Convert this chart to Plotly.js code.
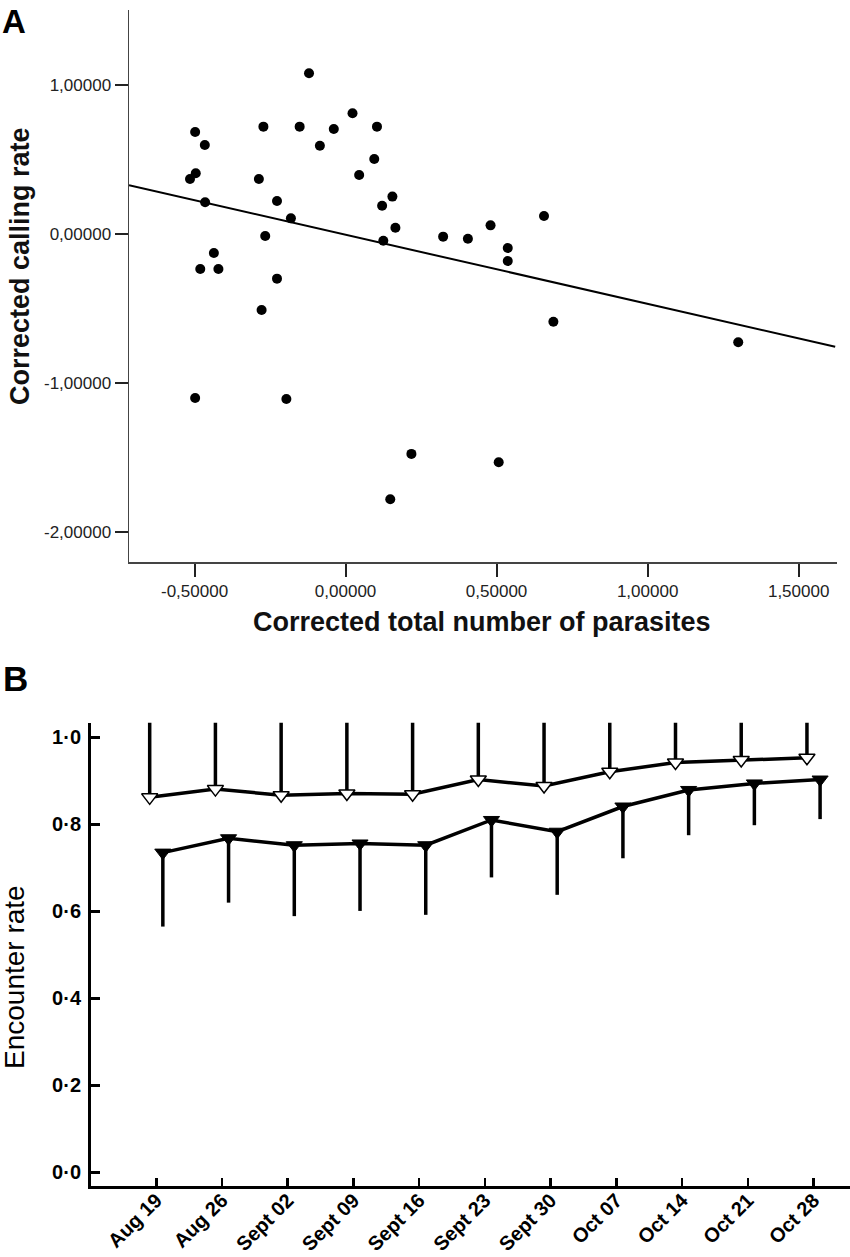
<!DOCTYPE html>
<html>
<head>
<meta charset="utf-8">
<script src="https://cdn.plot.ly/plotly-3.0.1.min.js"></script>
<style>
  html, body { margin: 0; padding: 0; background: #fff; }
  #chart { width: 850px; height: 1257px; }
</style>
</head>
<body>
<div id="chart"></div>
<script>
// ---------- Panel A data ----------
const parasitesX = [
  -0.121, 0.023, -0.272, -0.152, -0.039, 0.104, -0.498, -0.466, -0.085, 0.095,
  -0.496, -0.515, -0.287, 0.045, 0.155, 0.121, -0.465, -0.227, -0.181, 0.165,
  0.125, -0.266, -0.436, -0.481, -0.421, -0.227, -0.278, 0.688, -0.498, -0.196,
  0.218, 0.507, 0.148, 0.323, 0.405, 0.480, 0.537, 0.537, 0.657, 1.300
];
const callingY = [
  1.081, 0.813, 0.723, 0.723, 0.707, 0.723, 0.687, 0.600, 0.595, 0.506,
  0.410, 0.371, 0.371, 0.398, 0.253, 0.192, 0.215, 0.224, 0.107, 0.044,
  -0.043, -0.011, -0.126, -0.233, -0.233, -0.298, -0.508, -0.587, -1.099, -1.106,
  -1.475, -1.531, -1.780, -0.016, -0.030, 0.060, -0.092, -0.179, 0.123, -0.725
];
const fitIntercept = -0.003;
const fitSlope = -0.464;
const fitXRange = [-0.717, 1.621];

const aXTickVals = [-0.5, 0, 0.5, 1, 1.5];
const aXTickText = ["-0,50000", "0,00000", "0,50000", "1,00000", "1,50000"];
const aYTickVals = [1, 0, -1, -2];
const aYTickText = ["1,00000", "0,00000", "-1,00000", "-2,00000"];

// ---------- Panel B data ----------
const weeks = ["Aug 19", "Aug 26", "Sept 02", "Sept 09", "Sept 16", "Sept 23",
               "Sept 30", "Oct 07", "Oct 14", "Oct 21", "Oct 28"];
const openRate = [0.862, 0.881, 0.867, 0.871, 0.869, 0.903, 0.888, 0.921, 0.942, 0.948, 0.953];
const openErrUp = [0.18, 0.16, 0.17, 0.17, 0.17, 0.14, 0.15, 0.12, 0.10, 0.10, 0.09];
const closedRate = [0.735, 0.768, 0.752, 0.756, 0.752, 0.810, 0.783, 0.841, 0.879, 0.894, 0.903];
const closedErrDown = [0.170, 0.148, 0.163, 0.155, 0.160, 0.132, 0.145, 0.119, 0.104, 0.096, 0.091];
const bYTickVals = [0, 0.2, 0.4, 0.6, 0.8, 1.0];
const bYTickText = ["0·0", "0·2", "0·4", "0·6", "0·8", "1·0"];

// ---------- geometry helpers (pixel -> paper) ----------
const W = 850, H = 1257;
const px = v => v / W;
const py = v => 1 - v / H;
const FONT = "Liberation Sans, Arial, sans-serif";
const OFFSET = 0.1;

const idx = weeks.map((_, i) => i);
const zeros = weeks.map(() => 0);

const traces = [
  {
    x: parasitesX, y: callingY, xaxis: "x", yaxis: "y",
    type: "scatter", mode: "markers",
    marker: { color: "#000", size: 10 },
    hoverinfo: "x+y", showlegend: false
  },
  {
    x: fitXRange, y: fitXRange.map(v => fitIntercept + fitSlope * v),
    xaxis: "x", yaxis: "y", type: "scatter", mode: "lines",
    line: { color: "#000", width: 2 }, showlegend: false
  },
  {
    x: idx.map(i => i + OFFSET), y: closedRate, xaxis: "x2", yaxis: "y2",
    type: "scatter", mode: "lines+markers",
    line: { color: "#000", width: 3.5 },
    marker: { symbol: "triangle-down", size: 14, color: "#000", line: { color: "#000", width: 1 } },
    error_y: { type: "data", symmetric: false, array: zeros, arrayminus: closedErrDown,
               color: "#000", thickness: 3.5, width: 0 },
    showlegend: false
  },
  {
    x: idx.map(i => i - OFFSET), y: openRate, xaxis: "x2", yaxis: "y2",
    type: "scatter", mode: "lines+markers",
    line: { color: "#000", width: 3.5 },
    marker: { symbol: "triangle-down", size: 14, color: "#fff", line: { color: "#000", width: 1.5 } },
    error_y: { type: "data", symmetric: false, array: openErrUp, arrayminus: zeros,
               color: "#000", thickness: 3.5, width: 0 },
    showlegend: false
  }
];

const layout = {
  width: W, height: H,
  margin: { l: 0, r: 0, t: 0, b: 0 },
  paper_bgcolor: "#fff", plot_bgcolor: "#fff",
  font: { family: FONT, color: "#000" },
  showlegend: false,
  xaxis: {
    domain: [px(129), px(837)], range: [-0.717, 1.627], anchor: "y",
    tickvals: aXTickVals, ticktext: aXTickText,
    ticks: "outside", ticklen: 13, tickwidth: 2, tickcolor: "#222",
    showline: true, linecolor: "#444", linewidth: 1.5,
    showgrid: false, zeroline: false,
    tickfont: { family: FONT, size: 17, color: "#222" }
  },
  yaxis: {
    domain: [py(562), py(9.6)], range: [-2.201, 1.509], anchor: "x",
    tickvals: aYTickVals, ticktext: aYTickText,
    ticks: "outside", ticklen: 13, tickwidth: 2, tickcolor: "#222",
    showline: true, linecolor: "#444", linewidth: 1.5,
    showgrid: false, zeroline: false,
    tickfont: { family: FONT, size: 17, color: "#222" }
  },
  xaxis2: {
    domain: [px(91), 1], range: [-0.993, 10.555], anchor: "y2",
    tickvals: idx, ticktext: weeks, tickangle: -45,
    ticks: "inside", ticklen: 8, tickwidth: 2.5, tickcolor: "#000",
    showline: true, linecolor: "#000", linewidth: 3,
    showgrid: false, zeroline: false,
    ticklabelstandoff: -8,
    tickfont: { family: FONT, size: 20, color: "#000", weight: "bold" }
  },
  yaxis2: {
    domain: [py(1185.8), py(722.7)], range: [-0.0308, 1.0336], anchor: "x2",
    tickvals: bYTickVals, ticktext: bYTickText,
    ticks: "inside", ticklen: 9, tickwidth: 2.5, tickcolor: "#000",
    showline: true, linecolor: "#000", linewidth: 3,
    showgrid: false, zeroline: false,
    ticklabelstandoff: 3,
    tickfont: { family: FONT, size: 20, color: "#000", weight: "bold" }
  },
  annotations: [
    { text: "<b>A</b>", xref: "paper", yref: "paper", x: 0, y: py(1), xanchor: "left", yanchor: "top",
      showarrow: false, font: { family: FONT, size: 33, color: "#000" } },
    { text: "<b>B</b>", xref: "paper", yref: "paper", x: px(1), y: py(678), xanchor: "left", yanchor: "middle",
      showarrow: false, font: { family: FONT, size: 35, color: "#000" } },
    { text: "<b>Corrected calling rate</b>", xref: "paper", yref: "paper", x: px(20), y: py(266),
      xanchor: "center", yanchor: "middle", textangle: -90, showarrow: false,
      font: { family: FONT, size: 27, color: "#111" } },
    { text: "<b>Corrected total number of parasites</b>", xref: "paper", yref: "paper", x: px(482), y: py(622),
      xanchor: "center", yanchor: "middle", showarrow: false,
      font: { family: FONT, size: 27, color: "#111" } },
    { text: "Encounter rate", xref: "paper", yref: "paper", x: px(14), y: py(977),
      xanchor: "center", yanchor: "middle", textangle: -90, showarrow: false,
      font: { family: FONT, size: 28, color: "#000" } }
  ]
};

Plotly.newPlot("chart", traces, layout, { staticPlot: true, displayModeBar: false });
</script>
</body>
</html>
